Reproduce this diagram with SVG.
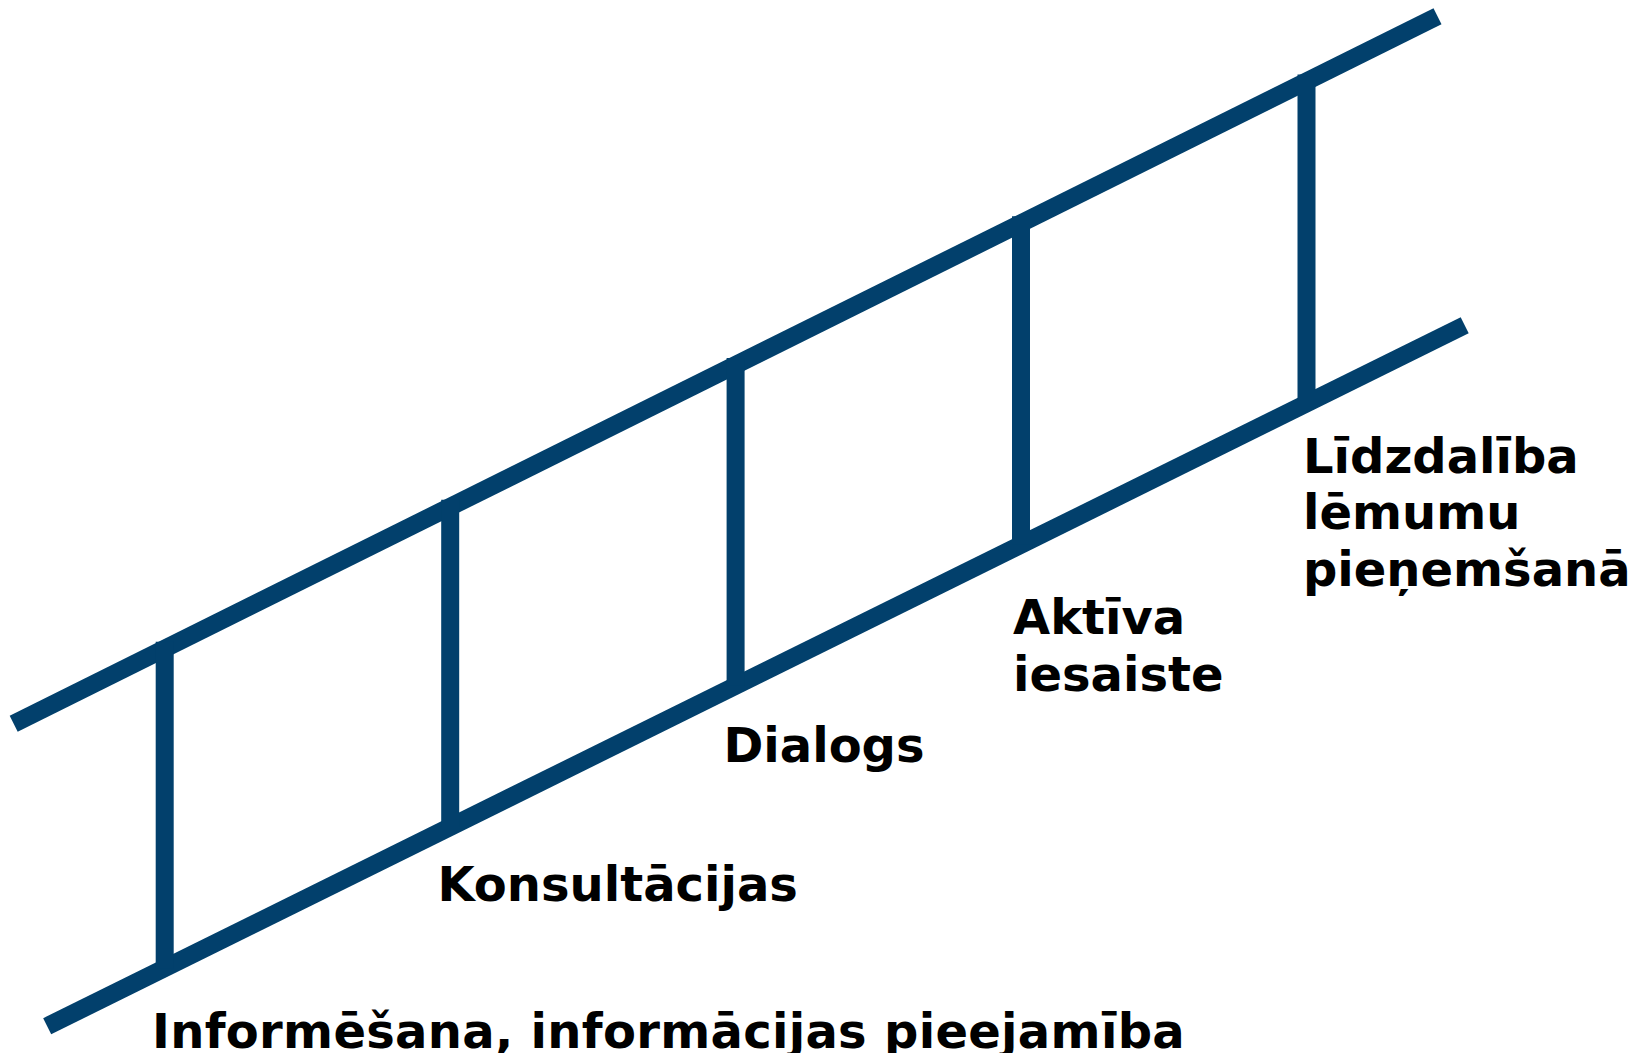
<svg xmlns="http://www.w3.org/2000/svg" width="1642" height="1053" viewBox="0 0 1642 1053">
<style>
.rail{stroke:#02406C;stroke-width:18;stroke-linecap:butt;fill:none}
.lbl{font-family:"DejaVu Sans","Verdana",sans-serif;font-weight:bold;font-size:48px;fill:#000}
</style>
<rect x="0" y="0" width="1642" height="1053" fill="#ffffff"/>
<g id="connectors">
<line class="rail" x1="13.7" y1="723.7" x2="1437.5" y2="16.3"/>
<line class="rail" x1="47.2" y1="1026.2" x2="1464.7" y2="325.3"/>
</g>
<g id="step1">
<line class="rail" x1="164.7" y1="641.7" x2="164.7" y2="968.3"/>
<text class="lbl" x="152" y="1048" letter-spacing="0.3">Informēšana, informācijas pieejamība</text>
</g>
<g id="step2">
<line class="rail" x1="450.2" y1="499.8" x2="450.2" y2="826.9"/>
<text class="lbl" x="437.5" y="901">Konsultācijas</text>
</g>
<g id="step3">
<line class="rail" x1="735.6" y1="358.1" x2="735.6" y2="685.8"/>
<text class="lbl" x="723.5" y="762">Dialogs</text>
</g>
<g id="step4">
<line class="rail" x1="1021" y1="216.3" x2="1021" y2="544.7"/>
<text class="lbl" x="1013" y="633.5">Aktīva<tspan x="1013" y="690.5">iesaiste</tspan></text>
</g>
<g id="step5">
<line class="rail" x1="1306.5" y1="74.5" x2="1306.5" y2="403.5"/>
<text class="lbl" x="1303" y="472.5">Līdzdalība<tspan x="1303" y="529">lēmumu</tspan><tspan x="1303" y="585.5">pieņemšanā</tspan></text>
</g>
</svg>
